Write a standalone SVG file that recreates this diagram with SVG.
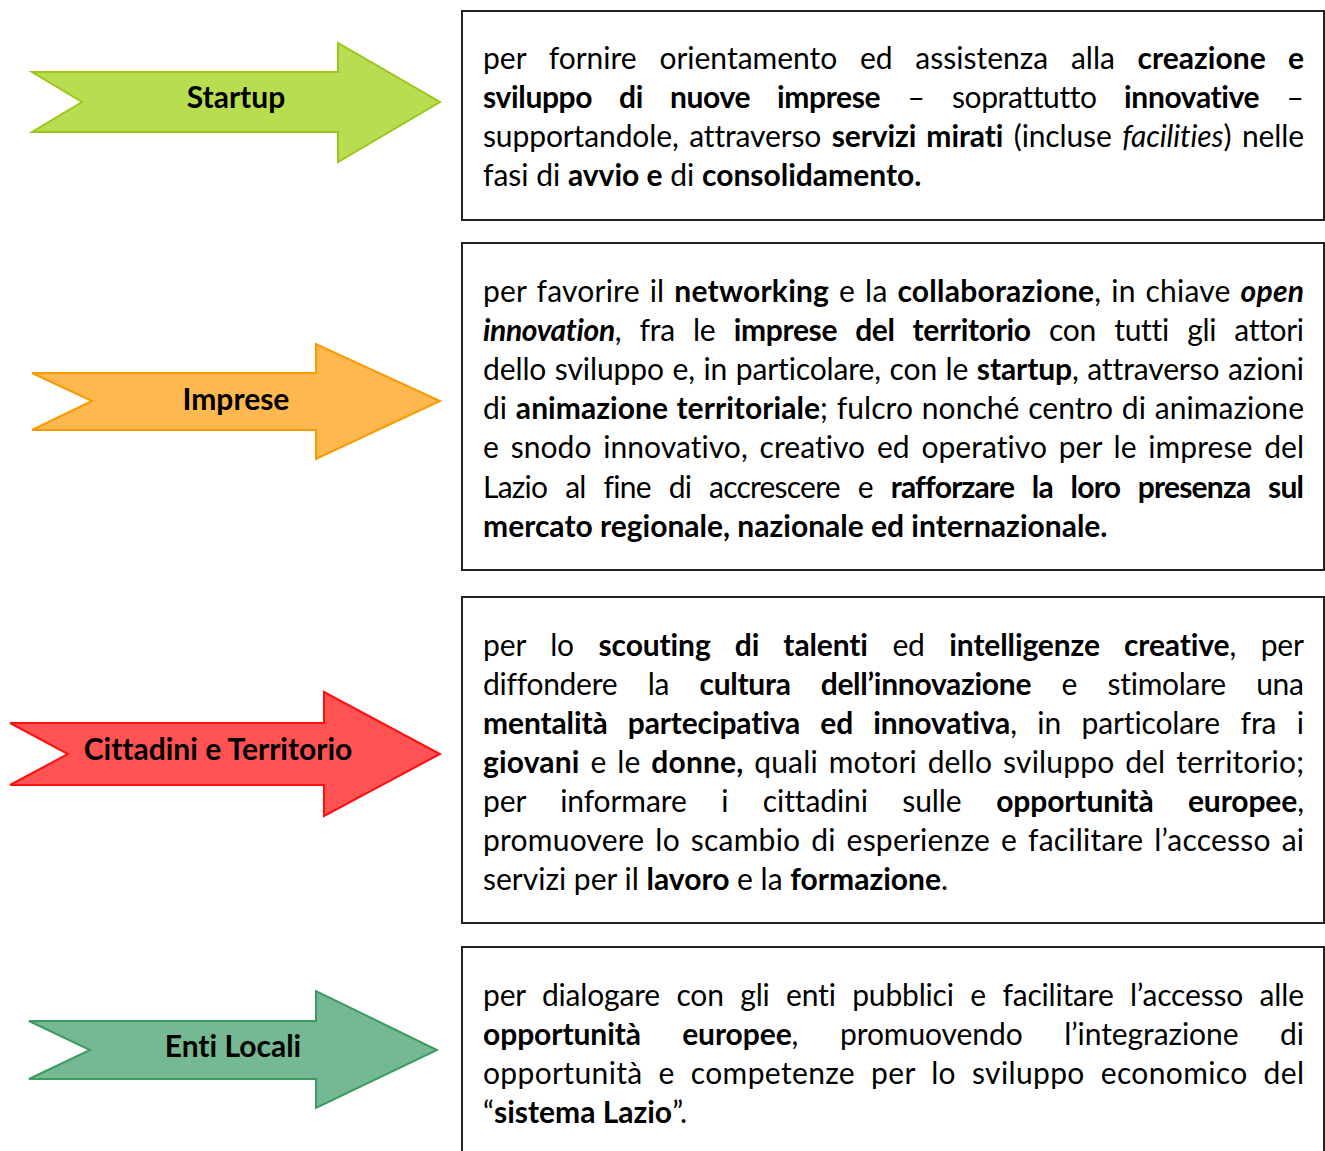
<svg xmlns="http://www.w3.org/2000/svg" width="1325" height="1151" viewBox="0 0 1325 1151">
<style>
.t{font-family:Lato,"Open Sans","Liberation Sans",sans-serif;font-size:30px;fill:#000;font-variant-ligatures:none}
.b{font-weight:bold}
.i{font-style:italic}
.lbl{font-family:Lato,"Open Sans","Liberation Sans",sans-serif;font-size:30px;font-weight:bold;fill:#000;text-anchor:middle;font-variant-ligatures:none}
.box{fill:#fff;stroke:#222;stroke-width:2}
.arr{stroke-width:2;stroke-linejoin:miter}
</style>
<rect width="1325" height="1151" fill="#fff"/>
<g id="connectors"></g>

<g id="startup">
<polygon class="arr" fill="#b9dd50" stroke="#9cc71a" points="32,72 338,72 338,43 440,102 338,162 338,132 32,132 82,102"/>
<text class="lbl" x="236" y="108">Startup</text>
</g>
<g id="imprese">
<polygon class="arr" fill="#ffb84f" stroke="#f99a00" points="32,373 316,373 316,344 440,401 316,459 316,430 32,430 92,401"/>
<text class="lbl" x="236" y="410">Imprese</text>
</g>
<g id="cittadini">
<polygon class="arr" fill="#ff5353" stroke="#ff1010" points="10,723 324,723 324,692 440,754 324,816 324,785 10,785 68,754"/>
<text class="lbl" x="218" y="760">Cittadini e Territorio</text>
</g>
<g id="enti">
<polygon class="arr" fill="#74b994" stroke="#3c9b60" points="29,1021 316,1021 316,991 437,1050 316,1108 316,1079 29,1079 90,1050"/>
<text class="lbl" x="233" y="1057">Enti Locali</text>
</g>

<g id="box-startup">
<rect class="box" x="462" y="11" width="862" height="209"/>
<text class="t" x="483" y="69" word-spacing="15" textLength="821" lengthAdjust="spacing">per fornire orientamento ed assistenza alla <tspan class="b">creazione e</tspan></text>
<text class="t" x="483" y="108" word-spacing="20" textLength="821" lengthAdjust="spacing"><tspan class="b">sviluppo di nuove imprese</tspan> – soprattutto <tspan class="b">innovative</tspan> –</text>
<text class="t" x="483" y="147" word-spacing="3" textLength="821" lengthAdjust="spacing">supportandole, attraverso <tspan class="b">servizi mirati</tspan> (incluse <tspan class="i">facilities</tspan>) nelle</text>
<text class="t" x="483" y="186">fasi di <tspan class="b">avvio e</tspan> di <tspan class="b">consolidamento.</tspan></text>
</g>

<g id="box-imprese">
<rect class="box" x="462" y="243" width="862" height="327"/>
<text class="t" x="483" y="302" word-spacing="2" textLength="821" lengthAdjust="spacing">per favorire il <tspan class="b">networking</tspan> e la <tspan class="b">collaborazione</tspan>, in chiave <tspan class="b i">open</tspan></text>
<text class="t" x="483" y="341" word-spacing="11" textLength="821" lengthAdjust="spacing"><tspan class="b i">innovation</tspan>, fra le <tspan class="b">imprese del territorio</tspan> con tutti gli attori</text>
<text class="t" x="483" y="380" word-spacing="1" textLength="821" lengthAdjust="spacing">dello sviluppo e, in particolare, con le <tspan class="b">startup</tspan>, attraverso azioni</text>
<text class="t" x="483" y="419" word-spacing="1" textLength="821" lengthAdjust="spacing">di <tspan class="b">animazione territoriale</tspan>; fulcro nonché centro di animazione</text>
<text class="t" x="483" y="458" word-spacing="4" textLength="821" lengthAdjust="spacing">e snodo innovativo, creativo ed operativo per le imprese del</text>
<text class="t" x="483" y="498" word-spacing="11" textLength="821" lengthAdjust="spacing">Lazio al fine di accrescere e <tspan class="b">rafforzare la loro presenza sul</tspan></text>
<text class="t b" x="483" y="537">mercato regionale, nazionale ed internazionale.</text>
</g>

<g id="box-cittadini">
<rect class="box" x="462" y="597" width="862" height="326"/>
<text class="t" x="483" y="656" word-spacing="17" textLength="821" lengthAdjust="spacing">per lo <tspan class="b">scouting di talenti</tspan> ed <tspan class="b">intelligenze creative</tspan>, per</text>
<text class="t" x="483" y="695" word-spacing="23" textLength="821" lengthAdjust="spacing">diffondere la <tspan class="b">cultura dell’innovazione</tspan> e stimolare una</text>
<text class="t" x="483" y="734" word-spacing="13" textLength="821" lengthAdjust="spacing"><tspan class="b">mentalità partecipativa ed innovativa</tspan>, in particolare fra i</text>
<text class="t" x="483" y="773" word-spacing="3" textLength="821" lengthAdjust="spacing"><tspan class="b">giovani</tspan> e le <tspan class="b">donne,</tspan> quali motori dello sviluppo del territorio;</text>
<text class="t" x="483" y="812" word-spacing="27" textLength="821" lengthAdjust="spacing">per informare i cittadini sulle <tspan class="b">opportunità europee</tspan>,</text>
<text class="t" x="483" y="851" word-spacing="3" textLength="821" lengthAdjust="spacing">promuovere lo scambio di esperienze e facilitare l’accesso ai</text>
<text class="t" x="483" y="890">servizi per il <tspan class="b">lavoro</tspan> e la <tspan class="b">formazione</tspan>.</text>
</g>

<g id="box-enti">
<rect class="box" x="462" y="947" width="862" height="215"/>
<text class="t" x="483" y="1006" word-spacing="9" textLength="821" lengthAdjust="spacing">per dialogare con gli enti pubblici e facilitare l’accesso alle</text>
<text class="t" x="483" y="1045" word-spacing="34" textLength="821" lengthAdjust="spacing"><tspan class="b">opportunità europee</tspan>, promuovendo l’integrazione di</text>
<text class="t" x="483" y="1084" word-spacing="8" textLength="821" lengthAdjust="spacing">opportunità e competenze per lo sviluppo economico del</text>
<text class="t" x="483" y="1123">“<tspan class="b">sistema Lazio</tspan>”.</text>
</g>
</svg>
